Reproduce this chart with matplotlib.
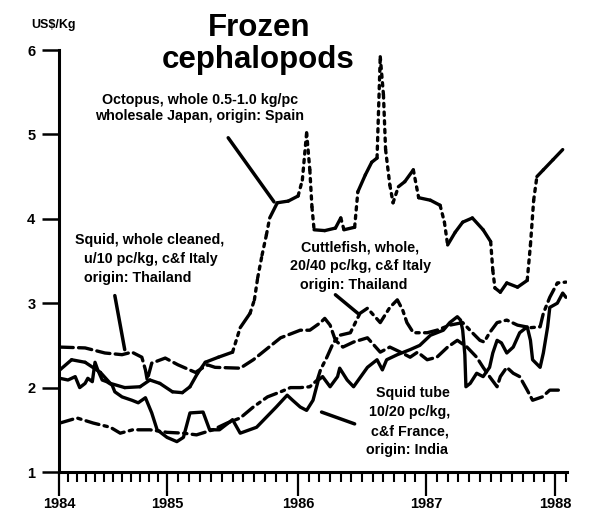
import numpy as np
import matplotlib
matplotlib.use("Agg")
import matplotlib.pyplot as plt
from matplotlib.collections import LineCollection

plt.rcParams['font.family'] = ['Liberation Sans', 'DejaVu Sans']
plt.rcParams['font.weight'] = 'bold'

# x = months after January 1984, y = US$/kg
octopus_m = [0.1, 1.4, 2.9, 4.6, 5.7, 7.3, 9.0, 10.1, 11.2, 12.5, 13.4, 14.1, 14.8, 15.5,
             16.7, 18.0, 18.7, 19.6, 20.0, 20.3, 20.7, 21.1, 21.4, 22.1, 23.1, 24.0, 24.4,
             24.8, 25.1, 25.3, 25.5, 26.5, 27.5, 28.0, 28.3, 29.3, 29.6, 30.3, 30.9, 31.4,
             31.7, 32.0, 32.2, 32.6, 32.9, 33.4, 34.0, 34.8, 35.3, 36.4, 37.3, 37.7, 38.0,
             38.7, 39.4, 40.3, 41.3, 42.0, 42.2, 42.4, 42.9, 43.5, 44.5, 45.4, 45.7, 46.0,
             46.3, 46.9, 47.8, 48.7]
octopus_v = [2.21, 2.33, 2.30, 2.18, 2.05, 2.00, 2.01, 2.09, 2.05, 1.95, 1.94, 2.01, 2.17, 2.30,
             2.36, 2.42, 2.71, 2.88, 3.04, 3.30, 3.57, 3.81, 4.01, 4.19, 4.21, 4.27, 4.46,
             5.02, 4.58, 4.14, 3.87, 3.86, 3.89, 4.01, 3.87, 3.90, 4.32, 4.52, 4.67, 4.72,
             5.92, 5.47, 4.82, 4.40, 4.19, 4.38, 4.44, 4.58, 4.25, 4.22, 4.16, 3.96, 3.69,
             3.84, 3.96, 4.01, 3.87, 3.73, 3.39, 3.18, 3.13, 3.24, 3.19, 3.27, 3.69, 4.22,
             4.50, 4.58, 4.70, 4.82]

whole_m = [0.1, 2.9, 5.1, 7.0, 8.1, 9.2, 9.6, 9.8, 10.3, 11.8, 13.0, 14.6, 15.7, 16.4, 18.7,
           19.9, 22.4, 24.2, 25.1, 26.1, 26.5, 27.0, 27.5, 28.2, 29.2, 30.5, 31.7, 32.6,
           33.6, 34.5, 35.2, 36.1, 37.0, 38.0, 38.9, 39.8, 40.7, 41.3, 41.9, 42.6, 42.9,
           43.5, 44.1, 44.7, 45.4, 45.9, 46.8, 47.5, 48.7]
whole_v = [2.48, 2.47, 2.41, 2.39, 2.42, 2.36, 2.21, 2.09, 2.29, 2.35, 2.27, 2.18, 2.27, 2.24,
           2.23, 2.33, 2.59, 2.68, 2.68, 2.77, 2.82, 2.74, 2.56, 2.48, 2.54, 2.59, 2.42, 2.48,
           2.42, 2.36, 2.42, 2.33, 2.36, 2.48, 2.56, 2.48, 2.36, 2.24, 2.13, 2.01, 2.13,
           2.24, 2.17, 2.13, 1.97, 1.85, 1.89, 1.97, 1.97]

cuttle_m = [0.1, 2.0, 3.8, 5.7, 6.8, 8.2, 10.1, 12.0, 13.5, 14.7, 16.2, 17.5, 18.7, 19.9,
            21.2, 22.4, 23.3, 24.2, 25.1, 25.8, 26.1, 26.7, 27.3, 27.9, 28.9, 29.8, 30.5,
            31.7, 32.6, 33.3, 33.8, 34.2, 34.8, 36.1, 37.0, 38.2, 39.4, 40.3, 41.0, 41.4,
            41.9, 42.6, 43.5, 44.5, 45.7, 46.6, 46.9, 47.5, 48.2, 49.0]
cuttle_v = [1.58, 1.64, 1.58, 1.53, 1.46, 1.50, 1.50, 1.47, 1.46, 1.44, 1.50, 1.58, 1.64, 1.77,
            1.89, 1.95, 2.00, 2.00, 2.01, 2.09, 2.21, 2.36, 2.53, 2.62, 2.65, 2.88, 2.94,
            2.77, 2.95, 3.04, 2.92, 2.77, 2.65, 2.65, 2.68, 2.74, 2.77, 2.65, 2.56, 2.54,
            2.65, 2.77, 2.80, 2.74, 2.71, 2.72, 2.88, 3.07, 3.24, 3.25]

tube_m = [0.1, 1.0, 1.8, 2.3, 2.9, 3.2, 3.7, 4.0, 4.3, 4.8, 5.3, 5.9, 6.2, 7.0, 8.1, 8.8, 9.6,
          10.3, 10.9, 12.0, 12.9, 13.5, 14.1, 15.3, 15.9, 16.8, 18.0, 18.7, 20.2, 22.0, 23.0,
          23.5, 24.2, 24.8, 25.4, 25.9, 26.3, 27.0, 27.7, 27.9, 28.6, 29.2, 30.5, 31.4, 31.9,
          32.3, 33.3, 34.5, 35.4, 36.4, 37.6, 38.2, 38.9, 39.2, 39.4, 39.6, 39.7, 40.1, 40.7,
          41.3, 41.9, 42.2, 42.6, 43.0, 43.5, 44.1, 44.7, 45.4, 45.7, 45.9, 46.6, 46.9, 47.3,
          47.5, 48.2, 48.7, 49.0]
tube_v = [2.11, 2.09, 2.13, 2.00, 2.05, 2.11, 2.07, 2.30, 2.21, 2.09, 2.07, 2.03, 1.95, 1.89,
          1.85, 1.82, 1.88, 1.70, 1.50, 1.41, 1.36, 1.41, 1.70, 1.71, 1.50, 1.50, 1.62, 1.46,
          1.53, 1.77, 1.91, 1.85, 1.77, 1.73, 1.85, 2.09, 2.13, 2.01, 2.13, 2.23, 2.09, 2.01,
          2.24, 2.33, 2.21, 2.33, 2.39, 2.45, 2.50, 2.62, 2.68, 2.77, 2.84, 2.80, 2.68, 2.39,
          2.01, 2.05, 2.17, 2.13, 2.24, 2.41, 2.56, 2.53, 2.41, 2.48, 2.65, 2.72, 2.56, 2.33,
          2.24, 2.41, 2.72, 2.95, 3.00, 3.12, 3.07]

year_months = [0, 12, 24, 36, 48]
year_labels = ['1984', '1985', '1986', '1987', '1988']

# the printed time axis is uneven (1984 is squeezed), so map months to positions
scale_m = [-12, 0, 12, 24, 36, 48, 60]
scale_p = [-108, 0, 108, 239, 367, 496, 625]


def fwd(x):
    return np.interp(x, scale_m, scale_p)


def inv(p):
    return np.interp(p, scale_p, scale_m)


fig = plt.figure(figsize=(6, 5.21), dpi=100)
ax = fig.add_axes([59 / 600, 49 / 521, 508 / 600, 422 / 521])
ax.set_xscale('function', functions=(fwd, inv))
ax.set_xlim(0, 49.1)
ax.set_ylim(1, 6)

lw = 2.4
ax.plot(whole_m, whole_v, color='k', lw=lw, ls=(0, (4, 1.6)), dash_capstyle='round')
ax.plot(cuttle_m, cuttle_v, color='k', lw=lw, ls=(0, (4, 1.6, 1, 1.6)), dash_capstyle='round')
ax.plot(tube_m, tube_v, color='k', lw=lw, solid_capstyle='round', solid_joinstyle='round')

# octopus: old plotter look, steep stretches come out dotted
pts = np.column_stack([octopus_m, octopus_v])
pix = ax.transData.transform(pts)
segs = np.stack([pts[:-1], pts[1:]], axis=1)
d = np.diff(pix, axis=0)
steep = np.abs(d[:, 1]) > 2.5 * np.abs(d[:, 0])
ax.add_collection(LineCollection(segs[~steep], colors='k', linewidths=lw, capstyle='round'))
ax.add_collection(LineCollection(segs[steep], colors='k', linewidths=lw,
                                 linestyles=[(0, (1, 1.6))], capstyle='round'))

# pointer strokes from labels to lines
for a, b in [((17.6, 4.96), (21.8, 4.20)), ((6.2, 3.09), (7.3, 2.45)),
             ((27.5, 3.10), (29.6, 2.88)), ((26.2, 1.71), (29.3, 1.57))]:
    ax.annotate('', xy=b, xytext=a, arrowprops=dict(arrowstyle='-', lw=2.5, color='k',
                                                   shrinkA=0, shrinkB=0))

ax.set_yticks([1, 2, 3, 4, 5, 6])
ax.set_xticks(year_months)
ax.set_xticklabels(year_labels)
ax.set_xticks(range(0, 50), minor=True)
ax.tick_params(axis='x', which='major', direction='out', length=17, width=1.6, pad=1, labelsize=10.5)
ax.tick_params(axis='x', which='minor', direction='out', length=7, width=1.5)
ax.tick_params(axis='y', direction='out', length=12, width=1.8, pad=5, labelsize=10.5)
for s in ['top', 'right']:
    ax.spines[s].set_visible(False)
for s in ['left', 'bottom']:
    ax.spines[s].set_linewidth(2.2)


def ftext(x, y, s, size=10.3):
    fig.text(x / 600, 1 - y / 521, s, ha='center', va='center', fontsize=size, fontweight='bold')


ftext(259, 28, 'Frozen', 22.5)
ftext(258, 60, 'cephalopods', 22.5)
ftext(53, 25, 'US$/Kg', 9)

ftext(200, 100, 'Octopus, whole 0.5-1.0 kg/pc')
ftext(200, 116, 'wholesale Japan, origin: Spain')

ftext(150, 240, 'Squid, whole cleaned,')
ftext(151, 259, 'u/10 pc/kg, c&f Italy')
ftext(138, 278, 'origin: Thailand')

ftext(360, 247, 'Cuttlefish, whole,')
ftext(360, 266, '20/40 pc/kg, c&f Italy')
ftext(354, 285, 'origin: Thailand')

ftext(413, 393, 'Squid tube')
ftext(410, 412, '10/20 pc/kg,')
ftext(410, 431, 'c&f France,')
ftext(407, 450, 'origin: India')

fig.savefig('out.png', dpi=100)
